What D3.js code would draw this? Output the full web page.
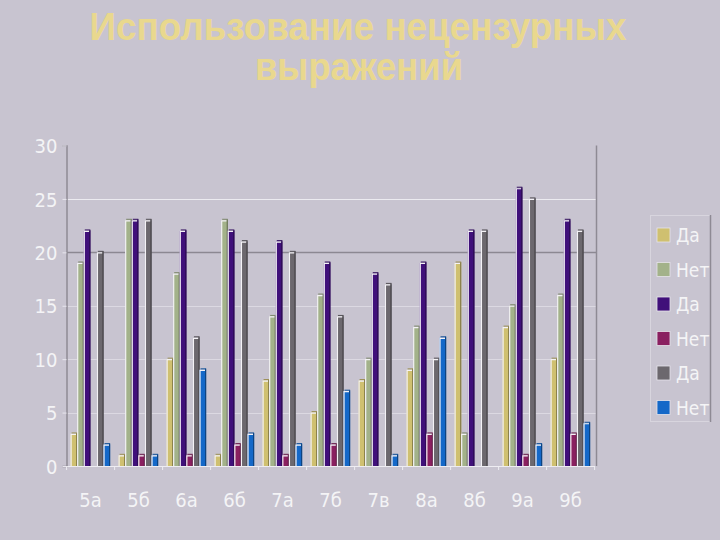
<!DOCTYPE html>
<html><head><meta charset="utf-8">
<script src="https://cdn.jsdelivr.net/npm/d3@7"></script>
<style>
html,body{margin:0;padding:0;background:#c8c4d0;}
svg{display:block;}
</style></head>
<body>
<svg id="c" width="720" height="540"></svg>
<script>
const titleLines = ["Использование нецензурных", "выражений"];
const categories = ["5а","5б","6а","6б","7а","7б","7в","8а","8б","9а","9б"];
const seriesNames = ["Да","Нет","Да","Нет","Да","Нет"];
const seriesColors = ["#cfc070","#a3b28a","#40107a","#8a2060","#6c686e","#1468c8"];
const s1 = [3,1,10,1,8,5,8,9,19,13,10];
const s2 = [19,23,18,23,14,16,10,13,3,15,16];
const s3 = [22,23,22,22,21,19,18,19,22,26,23];
const s4 = [0,1,1,2,1,2,0,3,0,1,3];
const s5 = [20,23,12,21,20,14,17,10,22,25,22];
const s6 = [2,1,9,3,2,7,1,12,0,2,4];
const series = [s1,s2,s3,s4,s5,s6];
const yTicks = [0,5,10,15,20,25,30];

const svg = d3.select("#c");
const bg = "#c8c4d0";
svg.append("rect").attr("width",720).attr("height",540).attr("fill",bg);

// title
const tg = svg.append("g").attr("font-family","'Liberation Sans', Arial, sans-serif")
  .attr("font-weight","bold").attr("font-size",38).attr("fill","#e9d88e").attr("text-anchor","middle");
tg.append("text").attr("x",358).attr("y",40).text(titleLines[0])
  .attr("textLength",537).attr("lengthAdjust","spacingAndGlyphs");
tg.append("text").attr("x",359).attr("y",80).text(titleLines[1])
  .attr("textLength",208).attr("lengthAdjust","spacingAndGlyphs");

const x0 = d3.scaleBand().domain(categories).range([66.6,594.6]).padding(0);
const x1 = d3.scaleBand().domain(d3.range(6)).range([4,43.5]).padding(0);
const y = d3.scaleLinear().domain([0,30]).range([466,145.5]);

const font = "'Liberation Sans Narrow','DejaVu Sans Condensed','Liberation Sans',sans-serif";

// gridlines
const gridColor = {5:"#dcd9e2",10:"#dcd9e2",15:"#dcd9e2",20:"#8c8892",25:"#ecebf0"};
svg.append("g").selectAll("line").data(yTicks.filter(t=>t>0 && t<30)).join("line")
  .attr("x1",66.6).attr("x2",596).attr("y1",d=>Math.round(y(d))+0.5).attr("y2",d=>Math.round(y(d))+0.5)
  .attr("stroke",d=>gridColor[d]).attr("stroke-width",d=>d===20?1.6:1.2);

// right border
svg.append("line").attr("x1",596.5).attr("x2",596.5).attr("y1",y(30)).attr("y2",y(0))
  .attr("stroke","#8e8a94").attr("stroke-width",1.5);

// y axis
const yAxis = d3.axisLeft(y).tickValues(yTicks).tickSize(4).tickPadding(5);
const ya = svg.append("g").attr("transform","translate(66.5,0)").call(yAxis);
ya.select(".domain").attr("stroke","#8e8a94").attr("stroke-width",1.5);
ya.selectAll(".tick line").attr("stroke","#e8e6ee");
ya.selectAll(".tick text").attr("fill","#f4f4f6").attr("font-family",font).attr("font-size",20)
  .attr("dy","0.36em");

// bars
const groups = svg.append("g").selectAll("g").data(categories).join("g")
  .attr("transform",d=>`translate(${x0(d)},0)`);
groups.each(function(cat,ci){
  const g = d3.select(this);
  series.forEach((arr,si)=>{
    const v = arr[ci];
    if(v<=0) return;
    const bx = x1(si), bw = x1.bandwidth(), by = y(v), bh = y(0)-y(v);
    g.append("rect").attr("x",bx).attr("y",by).attr("width",bw).attr("height",bh)
      .attr("fill",seriesColors[si]);
    g.append("path").attr("d",`M${bx+0.5},${y(0)}V${by+0.5}H${bx+bw-1}`)
      .attr("fill","none").attr("stroke","#f4f2f6").attr("stroke-width",1.2);
    g.append("line").attr("x1",bx+bw-0.5).attr("x2",bx+bw-0.5).attr("y1",by-1).attr("y2",y(0))
      .attr("stroke",d3.color(seriesColors[si]).darker(1.2)).attr("stroke-width",1.2);
    g.append("line").attr("x1",bx+1).attr("x2",bx+bw).attr("y1",by-1).attr("y2",by-1)
      .attr("stroke",d3.color(seriesColors[si]).darker(0.8)).attr("stroke-width",1);
  });
});

// x axis
const xAxis = d3.axisBottom(x0).tickSize(0).tickPadding(27);
const xa = svg.append("g").attr("transform",`translate(0,${y(0)})`).call(xAxis);
xa.select(".domain").attr("stroke","#eeedf2").attr("stroke-width",1.2);
xa.selectAll(".tick text").attr("fill","#f4f4f6").attr("font-family",font).attr("font-size",20);
svg.append("g").selectAll("line").data(categories.concat(["__end"])).join("line")
  .attr("x1",(d,i)=>66.6+i*x0.bandwidth()).attr("x2",(d,i)=>66.6+i*x0.bandwidth())
  .attr("y1",y(0)).attr("y2",y(0)+4).attr("stroke","#eeedf2").attr("stroke-width",1);

// legend
const lg = svg.append("g");
lg.append("line").attr("x1",650.5).attr("x2",650.5).attr("y1",215).attr("y2",422).attr("stroke","#d8d5de");
lg.append("line").attr("x1",650).attr("x2",711).attr("y1",215.5).attr("y2",215.5).attr("stroke","#d8d5de");
lg.append("line").attr("x1",650).attr("x2",711).attr("y1",421.5).attr("y2",421.5).attr("stroke","#d8d5de");
lg.append("line").attr("x1",710.5).attr("x2",710.5).attr("y1",215).attr("y2",422).attr("stroke","#8e8a94").attr("stroke-width",1.5);
const items = lg.selectAll("g.it").data(seriesNames).join("g").attr("class","it")
  .attr("transform",(d,i)=>`translate(657,${228+i*34.5})`);
items.append("rect").attr("width",13).attr("height",14).attr("fill",(d,i)=>seriesColors[i])
  .attr("stroke","#e6e4ea").attr("stroke-width",0.8);
items.append("text").attr("x",19).attr("y",14).text(d=>d).attr("fill","#f4f4f6")
  .attr("font-family",font).attr("font-size",19);
</script>
</body></html>
